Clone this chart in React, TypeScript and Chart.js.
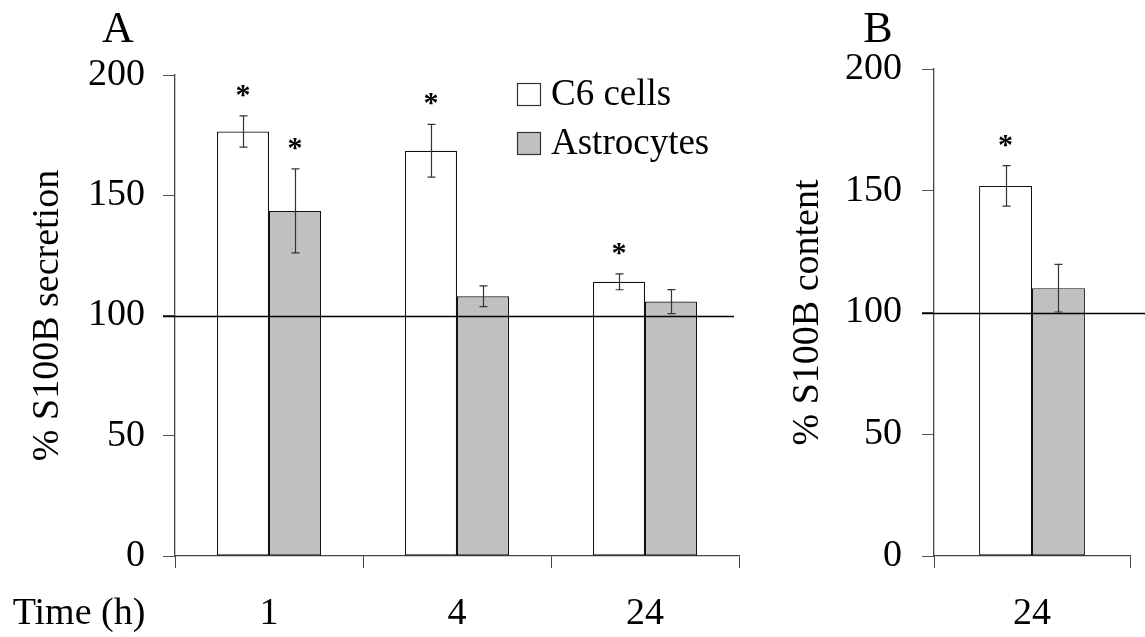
import React, { useEffect, useRef } from 'react';
import { Chart, registerables } from 'chart.js';

Chart.register(...registerables);

const FONT = "'Liberation Serif', 'Times New Roman', serif";

// Panel A: S100B secretion over time
const timeLabels = ['1', '4', '24'];
const c6Secretion = [176.5, 168.5, 114];
const c6SecretionErr = [6.5, 11, 3.3];
const astroSecretion = [143.5, 108, 105.8];
const astroSecretionErr = [17.5, 4.3, 5];
const c6SecretionSig = [true, true, true];
const astroSecretionSig = [true, false, false];

// Panel B: S100B content at 24 h
const contentLabels = ['24'];
const c6Content = [152];
const c6ContentErr = [8.3];
const astroContent = [110];
const astroContentErr = [9.8];
const c6ContentSig = [true];
const astroContentSig = [false];

const seriesNames = ['C6 cells', 'Astrocytes'];
const seriesColors = ['#ffffff', '#c0c0c0'];
const yTicks = [0, 50, 100, 150, 200];
const referenceValue = 100;

type PanelOpts = {
  letter: string;
  errors: number[][];
  sig: boolean[][];
  refRightPad: number | null;
  showLegend: boolean;
  showTime: boolean;
};

function extrasPlugin(o: PanelOpts) {
  return {
    id: 'panelExtras',
    afterDatasetsDraw(chart: any) {
      const ctx = chart.ctx as CanvasRenderingContext2D;
      const ys = chart.scales.y;
      const area = chart.chartArea;
      ctx.save();
      // reference line at 100
      const yr = Math.round(ys.getPixelForValue(referenceValue)) + 0.5;
      ctx.strokeStyle = '#000';
      ctx.lineWidth = 1.3;
      ctx.beginPath();
      ctx.moveTo(area.left - 12, yr);
      ctx.lineTo(o.refRightPad === null ? chart.width : area.right - o.refRightPad, yr);
      ctx.stroke();
      // error bars and asterisks
      chart.data.datasets.forEach((ds: any, i: number) => {
        const meta = chart.getDatasetMeta(i);
        meta.data.forEach((bar: any, j: number) => {
          const v = ds.data[j];
          const e = o.errors[i][j];
          const x = Math.round(bar.x) + 0.5;
          const top = ys.getPixelForValue(v + e);
          const bot = ys.getPixelForValue(v - e);
          ctx.strokeStyle = '#333';
          ctx.lineWidth = 1.2;
          ctx.beginPath();
          ctx.moveTo(x, top);
          ctx.lineTo(x, bot);
          ctx.moveTo(x - 4, top);
          ctx.lineTo(x + 4, top);
          ctx.moveTo(x - 4, bot);
          ctx.lineTo(x + 4, bot);
          ctx.stroke();
          if (o.sig[i][j]) {
            ctx.fillStyle = '#000';
            ctx.font = `bold 30px ${FONT}`;
            ctx.textAlign = 'center';
            ctx.textBaseline = 'alphabetic';
            const m = ctx.measureText('*');
            const h = m.actualBoundingBoxAscent - m.actualBoundingBoxDescent;
            const cy = top - 18;
            ctx.fillText('*', bar.x, cy + m.actualBoundingBoxAscent - h / 2);
          }
        });
      });
      ctx.restore();
    },
    afterDraw(chart: any) {
      const ctx = chart.ctx as CanvasRenderingContext2D;
      const area = chart.chartArea;
      ctx.save();
      ctx.fillStyle = '#000';
      // panel letter
      ctx.font = `44px ${FONT}`;
      ctx.textAlign = 'center';
      ctx.textBaseline = 'middle';
      ctx.fillText(o.letter, 118, 30);
      if (o.showTime) {
        ctx.font = `38px ${FONT}`;
        ctx.fillText('Time (h)', 79, area.bottom + 58);
      }
      if (o.showLegend) {
        ctx.font = `37px ${FONT}`;
        ctx.textAlign = 'left';
        chart.data.datasets.forEach((ds: any, i: number) => {
          const bx = 517;
          const by = 83 + i * 49;
          ctx.fillStyle = ds.backgroundColor;
          ctx.fillRect(bx, by, 23, 22);
          ctx.strokeStyle = '#333';
          ctx.lineWidth = 1.2;
          ctx.strokeRect(bx + 0.5, by + 0.5, 23, 22);
          ctx.fillStyle = '#000';
          ctx.fillText(ds.label, 551, by + 12);
        });
      }
      ctx.restore();
    },
  };
}

function makeChart(
  canvas: HTMLCanvasElement,
  labels: string[],
  a: number[],
  b: number[],
  title: string,
  layout: { left: number; top: number; right: number; labelPad: number; barFrac: number },
  extras: PanelOpts
) {
  return new Chart(canvas, {
    type: 'bar',
    data: {
      labels,
      datasets: [
        {
          label: seriesNames[0],
          data: a,
          backgroundColor: seriesColors[0],
          borderColor: '#111',
          borderWidth: 1.2,
          borderSkipped: false,
          categoryPercentage: layout.barFrac,
          barPercentage: 1,
        },
        {
          label: seriesNames[1],
          data: b,
          backgroundColor: seriesColors[1],
          borderColor: '#111',
          borderWidth: 1.2,
          borderSkipped: false,
          categoryPercentage: layout.barFrac,
          barPercentage: 1,
        },
      ],
    },
    options: {
      responsive: false,
      animation: false,
      devicePixelRatio: 1,
      layout: { padding: { left: 0, top: layout.top, right: layout.right, bottom: 0 } },
      plugins: { legend: { display: false }, tooltip: { enabled: false } },
      scales: {
        x: {
          grid: {
            display: true,
            drawOnChartArea: false,
            drawTicks: true,
            tickLength: 12,
            color: '#444',
            offset: true,
          },
          border: { display: true, color: '#444', width: 1.3 },
          ticks: {
            color: '#000',
            padding: 23,
            font: { family: FONT, size: 38 },
            maxRotation: 0,
          },
          afterFit: (s: any) => {
            s.height = 81;
          },
        },
        y: {
          min: 0,
          max: 200,
          afterBuildTicks: (s: any) => {
            s.ticks = yTicks.map((v) => ({ value: v }));
          },
          grid: {
            display: true,
            drawOnChartArea: false,
            drawTicks: true,
            tickLength: 12,
            color: '#555',
          },
          border: { display: true, color: '#444', width: 1.3 },
          ticks: {
            color: '#000',
            padding: layout.labelPad,
            font: { family: FONT, size: 38 },
          },
          title: {
            display: true,
            text: title,
            color: '#000',
            font: { family: FONT, size: 38 },
            padding: { top: 25, bottom: 0 },
          },
          afterFit: (s: any) => {
            s.width = layout.left;
          },
        },
      },
    },
    plugins: [extrasPlugin(extras)],
  } as any);
}

export default function App() {
  const refA = useRef<HTMLCanvasElement>(null);
  const refB = useRef<HTMLCanvasElement>(null);

  useEffect(() => {
    const chA = makeChart(
      refA.current!,
      timeLabels,
      c6Secretion,
      astroSecretion,
      '% S100B secretion',
      { left: 175, top: 75, right: 21, labelPad: 18, barFrac: 0.553 },
      {
        letter: 'A',
        errors: [c6SecretionErr, astroSecretionErr],
        sig: [c6SecretionSig, astroSecretionSig],
        refRightPad: 5,
        showLegend: true,
        showTime: true,
      }
    );
    const chB = makeChart(
      refB.current!,
      contentLabels,
      c6Content,
      astroContent,
      '% S100B content',
      { left: 174, top: 69, right: 15, labelPad: 20, barFrac: 0.54 },
      {
        letter: 'B',
        errors: [c6ContentErr, astroContentErr],
        sig: [c6ContentSig, astroContentSig],
        refRightPad: null,
        showLegend: false,
        showTime: false,
      }
    );
    return () => {
      chA.destroy();
      chB.destroy();
    };
  }, []);

  return (
    <div
      style={{
        position: 'absolute',
        left: 0,
        top: 0,
        width: 1145,
        height: 637,
        background: '#fff',
        overflow: 'hidden',
      }}
    >
      <canvas ref={refA} width={760} height={637} style={{ position: 'absolute', left: 0, top: 0 }} />
      <canvas ref={refB} width={385} height={637} style={{ position: 'absolute', left: 760, top: 0 }} />
    </div>
  );
}
